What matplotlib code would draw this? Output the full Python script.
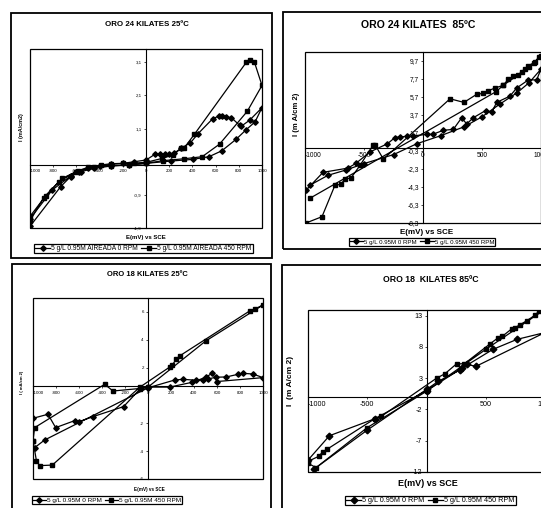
import matplotlib
matplotlib.use("Agg")
import matplotlib.pyplot as plt
from matplotlib import font_manager
from matplotlib.patches import Rectangle

W, H = 541, 508

_names = {f.name for f in font_manager.fontManager.ttflist}
REG = 'Liberation Sans'
NARROW = 'Liberation Sans Narrow' if 'Liberation Sans Narrow' in _names else REG
plt.rcParams['font.family'] = REG

# ---- data: ORO 24 KILATES 25ºC ----
E1_0 = [-1000, -735, -650, -580, -500, -400, -300, -200, -100, 0, 80, 120, 160, 200, 240,
        300, 383, 450, 576, 625, 654, 686, 735, 807, 821, 893, 1000,
        940, 865, 778, 654, 542, 403, 216, 0, -150, -300, -450, -560, -650, -807, -1000]
I1_0 = [-1.85, -0.65, -0.35, -0.2, -0.08, -0.02, 0.02, 0.05, 0.1, 0.15, 0.33, 0.33, 0.33, 0.33, 0.35,
        0.5, 0.67, 0.95, 1.4, 1.47, 1.48, 1.45, 1.43, 1.2, 1.17, 1.35, 1.73,
        1.3, 1.07, 0.78, 0.43, 0.25, 0.17, 0.12, 0.05, 0.0, -0.03, -0.1, -0.2, -0.33, -0.75, -1.62]
E1_450 = [-1000, -865, -720, -585, -500, -389, -300, -200, -100, 0, 140, 230, 303, 330, 418,
          865, 900, 935, 1000, 873, 634, 484, 331, 144, 0, -150, -300, -450, -600, -750, -880, -1000]
I1_450 = [-1.55, -0.93, -0.40, -0.17, -0.07, 0.0, 0.04, 0.05, 0.06, 0.08, 0.2, 0.3, 0.5, 0.52, 0.93,
          3.1, 3.17, 3.1, 2.4, 1.62, 0.63, 0.25, 0.19, 0.13, 0.05, 0.0, -0.02, -0.07, -0.2, -0.5, -0.98, -1.68]

# ---- data: ORO 24 KILATES 85ºC ----
E2_0 = [-992, -847, -636, -568, -449, -302, -237, -195, -138, -88, 31, 82, 172, 257, 328, 370,
        427, 531, 582, 624, 737, 794, 893, 963, 1000,
        900, 800, 650, 500, 350, 150, -54, -250, -500, -650, -805, -958]
I2_0 = [-4.67, -2.67, -2.2, -1.67, -0.4, 0.5, 1.2, 1.26, 1.33, 1.37, 1.55, 1.55, 2.0, 2.1, 3.4, 2.7,
        3.4, 4.2, 4.0, 5.1, 5.8, 6.7, 7.6, 7.6, 8.8,
        7.3, 6.2, 4.9, 3.5, 2.4, 1.4, 0.5, -0.7, -1.7, -2.4, -3.0, -4.1]
E2_450 = [-992, -856, -746, -695, -661, -610, -534, -424, -407, -336, 229, 347, 455, 506, 554, 610,
          681, 723, 766, 808, 836, 864, 893, 940, 986, 1000, 950, 900, 680, 620, -958]
I2_450 = [-8.3, -7.6, -4.1, -4.0, -3.4, -3.3, -1.9, 0.33, 0.4, -1.2, 5.5, 5.1, 6.0, 6.1, 6.4, 6.7,
          7.0, 7.7, 8.0, 8.2, 8.5, 8.85, 9.2, 9.5, 10.2, 10.3, 9.6, 9.0, 7.0, 6.3, -5.55]

# ---- data: ORO 18 KILATES 25ºC ----
E3_0 = [-1000, -870, -803, -638, -600, -478, -212, -60, 0, 188, 386, 500, 560, 600, 1000,
        913, 826, 783, 681, 594, 522, 478, 420, 304, 232, 0, -899, -986]
I3_0 = [-1.64, -1.35, -2.31, -1.81, -1.88, -1.52, -0.8, 0.55, 0.6, 0.6, 0.95, 1.3, 1.6, 1.0, 1.28,
        1.54, 1.59, 1.52, 1.33, 1.31, 1.19, 1.11, 1.09, 1.16, 1.11, 0.55, -3.2, -3.75]
E3_450 = [-1000, -970, -942, -832, -70, 194, 212, 246, 275, 884, 928, 1000,
          500, 0, -72, -304, -377, -986, -1000]
I3_450 = [-3.25, -4.7, -5.04, -5.0, 0.6, 2.07, 2.2, 2.6, 2.84, 6.07, 6.2, 6.5,
          3.9, 0.6, 0.5, 0.32, 0.8, -2.31, -3.25]

# ---- data: ORO 18 KILATES 85ºC ----
E4_0 = [-946, -500, 0, 100, 280, 339, 418, 1000, 763, 560, 300, 0, -438, -819, -1000]
I4_0 = [-11.5, -5.3, 1.2, 2.5, 4.3, 5.2, 4.9, 10.3, 9.2, 7.6, 4.6, 1.0, -3.5, -6.2, -10.1]
E4_450 = [-1000, -910, -876, -842, -438, -381, 85, 155, 254, 319, 537, 607, 640, 720, 749, 785,
          847, 918, 952, 1000, 500, 0, -500, -932, -1000]
I4_450 = [-10.3, -9.5, -8.8, -8.4, -3.5, -3.1, 3.0, 3.7, 5.3, 5.3, 8.5, 9.5, 9.7, 10.9, 11.1, 11.5,
          12.2, 13.1, 13.8, 14.0, 7.6, 0.9, -4.9, -11.3, -10.6]

TITLES = ['ORO 24 KILATES 25ºC', 'ORO 24 KILATES  85ºC', 'ORO 18 KILATES 25ºC', 'ORO 18  KILATES 85ºC']
YLABELS = ['I (mA/cm2)', 'I (m A/cm 2)', 'I ( mA/cm 2)', 'I  (m A/cm 2)']
XLABEL = 'E(mV) vs SCE'
LEG_TOP = ['5 g/L 0.95M AIREADA 0 RPM', '5 g/L 0.95M AIREADA 450 RPM']
LEG_BOT = ['5 g/L 0.95M 0 RPM', '5 g/L 0.95M 450 RPM']

X_TICKS_200 = list(range(-1000, 1001, 200))
X_TICKS_500 = [-1000, -500, 0, 500, 1000]
Y1_TICKS = [-1.9, -0.9, 0.1, 1.1, 2.1, 3.1]
Y1_LABELS = ['-1,9', '-0,9', '', '1,1', '2,1', '3,1']
Y2_TICKS = [-8.3, -6.3, -4.3, -2.3, -0.3, 1.7, 3.7, 5.7, 7.7, 9.7]
Y2_LABELS = ['-8,3', '-6,3', '-4,3', '-2,3', '-0,3', '1,7', '3,7', '5,7', '7,7', '9,7']
Y3_TICKS = [-6, -4, -2, 2, 4, 6]
Y4_TICKS = [-12, -7, -2, 3, 8, 13]


fig = plt.figure(figsize=(W / 100, H / 100), dpi=100)


def frame(x0, y0, x1, y1):
    fig.add_artist(Rectangle((x0 / W, 1 - y1 / H), (x1 - x0) / W, (y1 - y0) / H,
                             transform=fig.transFigure, fill=False, lw=1.3, ec='black'))


def panel(box, ylim, xticks, xlabels, yticks, ylabels, fs, cross=0.0):
    x0, y0, x1, y1 = box
    ax = fig.add_axes([x0 / W, 1 - y1 / H, (x1 - x0) / W, (y1 - y0) / H])
    ax.set_xlim(-1000, 1000)
    ax.set_ylim(*ylim)
    ax.spines['left'].set_position(('data', 0))
    ax.spines['bottom'].set_position(('data', cross))
    ax.spines['top'].set_visible(False)
    ax.spines['right'].set_visible(False)
    for s in ('left', 'bottom'):
        ax.spines[s].set_linewidth(0.8)
    ax.add_patch(Rectangle((0, 0), 1, 1, transform=ax.transAxes, fill=False,
                           lw=0.9, ec='black', clip_on=False))
    ax.set_xticks(xticks)
    ax.set_xticklabels(xlabels)
    ax.set_yticks(yticks)
    ax.set_yticklabels(ylabels)
    ax.tick_params(direction='out', length=1.5, width=0.5, labelsize=fs, pad=1.5)
    for t in ax.get_xticklabels() + ax.get_yticklabels():
        t.set_fontfamily(NARROW)
    ax.xaxis.get_major_ticks()[0].label1.set_horizontalalignment('left')
    ax.set_axisbelow(True)
    ax.patch.set_alpha(0)
    return ax


def text(x, y, s, size, bold=True, rot=0, fam=None):
    fig.text(x / W, 1 - y / H, s, ha='center', va='center', fontsize=size,
             fontweight='bold' if bold else 'normal', rotation=rot, family=fam or NARROW)


def legend(ax, cx, cy, labels, size, hl):
    h = ax.get_lines()
    lg = fig.legend(h, labels, loc='center', bbox_to_anchor=(cx / W, 1 - cy / H), ncol=2,
                    fancybox=False, edgecolor='black', framealpha=1, borderpad=0.15,
                    handlelength=hl, handletextpad=0.2, columnspacing=0.5, borderaxespad=0,
                    prop={'family': NARROW, 'size': size})
    lg.get_frame().set_linewidth(0.9)


def series(ax, e0, i0, e1, i1, ms):
    ax.plot(e0, i0, color='black', lw=0.9, marker='D', ms=ms)
    ax.plot(e1, i1, color='black', lw=0.9, marker='s', ms=ms)


# --- panel 1 ---
frame(11, 13, 272, 258)
ax1 = panel((30, 49, 262, 228), (-1.9, 3.5), X_TICKS_200, [str(v) for v in X_TICKS_200],
            Y1_TICKS, Y1_LABELS, 3.2)
series(ax1, E1_0, I1_0, E1_450, I1_450, 2.8)
text(147, 25, TITLES[0], 5.7)
text(21, 127, YLABELS[0], 3.9, rot=90)
text(146, 238, XLABEL, 4.3)
legend(ax1, 143.5, 248.5, LEG_TOP, 4.8, 2.2)

# --- panel 2 ---
frame(283, 12, 560, 249)
xl2 = ['-1000', '-500', '0', '500', '1000']
ax2 = panel((305, 52, 541, 223), (-8.3, 10.7), X_TICKS_500, xl2, Y2_TICKS, Y2_LABELS, 4.8)
series(ax2, E2_0, I2_0, E2_450, I2_450, 2.8)
text(418, 25, TITLES[1], 7.6, fam=REG)
text(297, 114, YLABELS[1], 5.5, rot=90)
text(427, 232, XLABEL, 5.8)
legend(ax2, 422, 242, LEG_BOT, 4.4, 2.2)

# --- panel 3 ---
frame(12, 264, 271, 515)
ax3 = panel((33, 298, 263, 479), (-6, 7), X_TICKS_200, [str(v) for v in X_TICKS_200],
            Y3_TICKS, [str(v) for v in Y3_TICKS], 3.2, cross=0.65)
series(ax3, E3_0, I3_0, E3_450, I3_450, 2.8)
text(147, 275, TITLES[2], 5.5)
text(22, 382, YLABELS[2], 3.0, rot=90)
text(149, 490, XLABEL, 3.3)
legend(ax3, 107, 500, LEG_BOT, 4.6, 2.0)

# --- panel 4 ---
frame(282, 265, 560, 515)
xl4 = ['-1000', '-500', '', '500', '1000']
ax4 = panel((308, 310, 545, 472), (-12, 13.9), X_TICKS_500, xl4, Y4_TICKS,
            [str(v) for v in Y4_TICKS], 5.2)
series(ax4, E4_0, I4_0, E4_450, I4_450, 3.4)
text(431, 280, TITLES[3], 6.3)
text(291, 381, YLABELS[3], 6.0, rot=90)
text(428, 484, XLABEL, 6.5)
legend(ax4, 430.5, 500.5, LEG_BOT, 5.2, 2.0)

fig.savefig('out.png', dpi=100)
